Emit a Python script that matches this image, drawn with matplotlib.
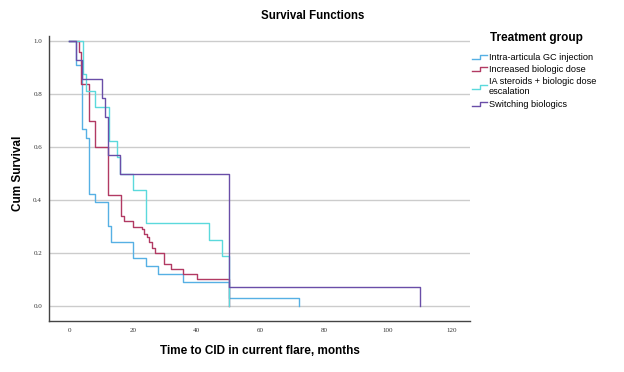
import numpy as np
import matplotlib
matplotlib.use("Agg")
import matplotlib.pyplot as plt
from matplotlib.lines import Line2D
from matplotlib.legend_handler import HandlerBase

plt.rcParams['font.family'] = ['Liberation Sans', 'DejaVu Sans']

# Kaplan-Meier step data (time in months, cumulative survival after the step)
groups = ["Intra-articula GC injection", "Increased biologic dose",
          "IA steroids + biologic dose\nescalation", "Switching biologics"]
colors = ["#56b0e4", "#b23a63", "#5bd9dc", "#6a4ea8"]

t_gc = [0, 2.0, 4.0, 5.2, 6.1, 8.2, 12.0, 13.2, 20.0, 24.0, 27.9, 35.8, 50.0, 72.0]
s_gc = [1.0, 0.909, 0.667, 0.636, 0.424, 0.394, 0.303, 0.242, 0.182, 0.152, 0.121, 0.091, 0.030, 0.0]

t_dose = [0, 3.1, 3.6, 6.3, 8.1, 12.0, 16.1, 17.0, 20.1, 22.7, 23.5, 24.3, 25.1, 25.8, 26.9,
          29.7, 31.8, 35.8, 40.0, 50.0]
s_dose = [1.0, 0.96, 0.84, 0.70, 0.60, 0.42, 0.34, 0.32, 0.30, 0.29, 0.27, 0.26, 0.24, 0.22, 0.20,
          0.16, 0.14, 0.12, 0.10, 0.0]

t_ia = [0, 4.4, 5.2, 8.1, 12.3, 15.0, 16.0, 20.1, 24.0, 43.9, 47.8, 50.0]
s_ia = [1.0, 0.875, 0.8125, 0.75, 0.625, 0.5625, 0.5, 0.4375, 0.3125, 0.25, 0.1875, 0.0]

t_sw = [0, 2.0, 4.1, 10.2, 11.2, 12.0, 16.0, 50.0, 110.0]
s_sw = [1.0, 0.929, 0.857, 0.786, 0.714, 0.571, 0.5, 0.071, 0.0]

times = [t_gc, t_dose, t_ia, t_sw]
survs = [s_gc, s_dose, s_ia, s_sw]

x_ticks = [0, 20, 40, 60, 80, 100, 120]
y_ticks = [0.0, 0.2, 0.4, 0.6, 0.8, 1.0]


class StepHandler(HandlerBase):
    # little step icon like the SPSS legend
    def create_artists(self, legend, orig_handle, xdescent, ydescent,
                       width, height, fontsize, trans):
        x0 = -xdescent
        y0 = -ydescent
        xs = [x0, x0 + width * 0.55, x0 + width * 0.55, x0 + width]
        ys = [y0 + height * 0.15, y0 + height * 0.15, y0 + height * 0.75, y0 + height * 0.75]
        ln = Line2D(xs, ys, color=orig_handle.get_color(), lw=1.0)
        ln.set_transform(trans)
        return [ln]


fig = plt.figure(figsize=(6.24, 3.72), dpi=100)
ax = fig.add_axes([49 / 624, 1 - 321 / 372, (470 - 49) / 624, (321 - 36) / 372])

handles = []
for t, s, c, g in zip(times, survs, colors, groups):
    ln, = ax.step(t, s, where='post', color=c, lw=1.0, label=g)
    handles.append(ln)

ax.set_xlim(-6.4, 125.8)
ax.set_ylim(-0.057, 1.02)
ax.set_xticks(x_ticks)
ax.set_yticks(y_ticks)
ax.set_xticklabels([str(v) for v in x_ticks], fontsize=5, family='Liberation Serif', color='#333333')
ax.set_yticklabels([f"{v:.1f}" for v in y_ticks], fontsize=5, family='Liberation Serif', color='#333333')
ax.tick_params(length=0, pad=5)
ax.grid(axis='y', color='#cccccc', lw=1.0)
ax.set_axisbelow(True)
for side in ['top', 'right']:
    ax.spines[side].set_visible(False)
for side in ['left', 'bottom']:
    ax.spines[side].set_color('#444444')
    ax.spines[side].set_linewidth(1.0)

fig.text(260 / 624, 1 - 351 / 372, "Time to CID in current flare, months", fontsize=8.5,
         fontweight='bold', ha='center', va='center')
fig.text(18 / 624, 1 - 173 / 372, "Cum Survival", fontsize=8.5, fontweight='bold',
         ha='center', va='center', rotation=90)

fig.text(313 / 624, 1 - 16 / 372, "Survival Functions", fontsize=8.3, fontweight='bold',
         ha='center', va='center')
fig.text(490 / 624, 1 - 38 / 372, "Treatment group", fontsize=8.5, fontweight='bold',
         ha='left', va='center')

fig.legend(handles=handles, labels=groups, loc='upper left',
           bbox_to_anchor=(467 / 624, 1 - 48 / 372), frameon=False,
           fontsize=6.6, handler_map={Line2D: StepHandler()},
           handlelength=1.7, handletextpad=0.2, labelspacing=0.35, borderpad=0)

fig.savefig("out.png", dpi=100)
